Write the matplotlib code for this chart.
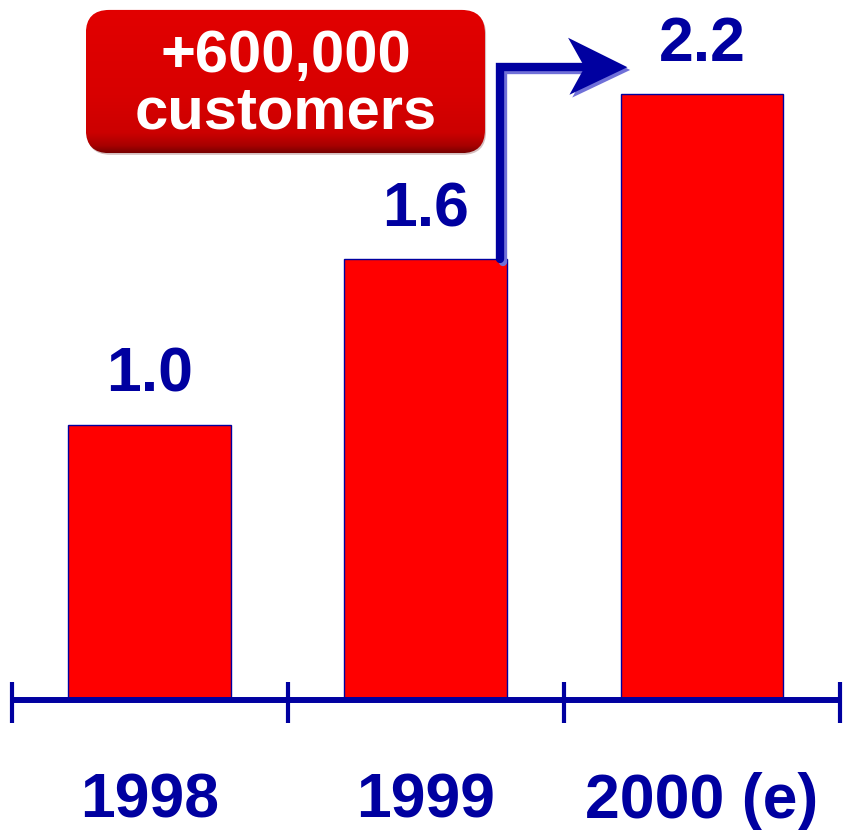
import numpy as np
import matplotlib
matplotlib.use("Agg")
from matplotlib import pyplot as plt
from matplotlib.patches import FancyBboxPatch, Polygon
import matplotlib.patheffects as pe

# Customers (millions)
years = ["1998", "1999", "2000 (e)"]
customers = [1.0, 1.6, 2.2]
value_labels = ["1.0", "1.6", "2.2"]
callout = ["+600,000", "customers"]

navy = "#0000a0"
font = "Liberation Sans"

fig = plt.figure(figsize=(8.43, 8.30), dpi=100)
ax = fig.add_axes([0, 0, 1, 1])
ax.set_xlim(-0.543, 2.511)
ax.set_ylim(-0.472, 2.541)
ax.axis("off")

x = np.arange(len(years))
bar_w = 0.59
ax.bar(x, customers, width=bar_w, color="#ff0000", edgecolor=navy, linewidth=1.0, zorder=2)

# baseline with category separators
ax.plot([-0.5, len(years) - 0.5], [0, 0], color=navy, lw=4.3, solid_capstyle="butt", zorder=3)
for t in np.arange(-0.5, len(years), 1.0):
    ax.plot([t, t], [-0.083, 0.065], color=navy, lw=3.0, solid_capstyle="butt", zorder=3)

for xi, v, lab in zip(x, customers, value_labels):
    ax.text(xi, v + 0.12, lab, ha="center", va="baseline", color=navy,
            fontsize=45, fontweight="bold", family=font, zorder=4)

for xi, yr in zip(x, years):
    ax.text(xi, -0.428, yr, ha="center", va="baseline", color=navy,
            fontsize=45, fontweight="bold", family=font)

# callout box with a vertical red gradient
bx0, bx1 = -0.232, 1.214
by0, by1 = 1.985, 2.505
shadow = FancyBboxPatch((bx0 + 0.004, by0 - 0.006), bx1 - bx0, by1 - by0,
                        boxstyle="round,pad=0,rounding_size=0.085", mutation_aspect=1.0,
                        facecolor="#5a0000", edgecolor="none", alpha=0.25, zorder=4)
ax.add_patch(shadow)
box = FancyBboxPatch((bx0, by0), bx1 - bx0, by1 - by0,
                     boxstyle="round,pad=0,rounding_size=0.085", mutation_aspect=1.0,
                     facecolor="none", edgecolor="none", zorder=5)
ax.add_patch(box)
grad = np.linspace(0, 1, 256).reshape(-1, 1)
cmap = matplotlib.colors.LinearSegmentedColormap.from_list(
    "boxred", [(0.0, "#780000"), (0.05, "#a80000"), (0.14, "#cc0000"), (0.4, "#d80000"), (1.0, "#e20000")])
img = ax.imshow(grad, extent=(bx0, bx1, by0, by1), origin="lower", cmap=cmap,
                aspect="auto", zorder=5)
img.set_clip_path(box)
mid = (bx0 + bx1) / 2
ax.text(mid, 2.28, callout[0], ha="center", va="baseline", color="white",
        fontsize=43, fontweight="bold", family=font, zorder=6)
ax.text(mid, 2.076, callout[1], ha="center", va="baseline", color="white",
        fontsize=43, fontweight="bold", family=font, zorder=6)

# elbow arrow from the 1999 bar to the 2000 bar
x_start = x[1] + bar_w / 2 - 0.025
y_line = 2.297
x_head = x[2] - bar_w / 2 - 0.19
shadow_fx = [pe.SimpleLineShadow(offset=(2, -2), shadow_color="#7070d8", alpha=1.0), pe.Normal()]
ax.plot([x_start, x_start, x_head + 0.05], [customers[1], y_line, y_line], color=navy, lw=6,
        solid_joinstyle="miter", solid_capstyle="round", zorder=6, path_effects=shadow_fx)
tip = x[2] - bar_w / 2 + 0.025
head = Polygon([(x_head, y_line + 0.107), (tip, y_line), (x_head + 0.005, y_line - 0.1),
                (x_head + 0.06, y_line)], closed=True, facecolor=navy, edgecolor="none", zorder=7,
               path_effects=[pe.SimplePatchShadow(offset=(2, -2), shadow_rgbFace="#7070d8", alpha=1.0), pe.Normal()])
ax.add_patch(head)

fig.savefig("out.png", dpi=100)
